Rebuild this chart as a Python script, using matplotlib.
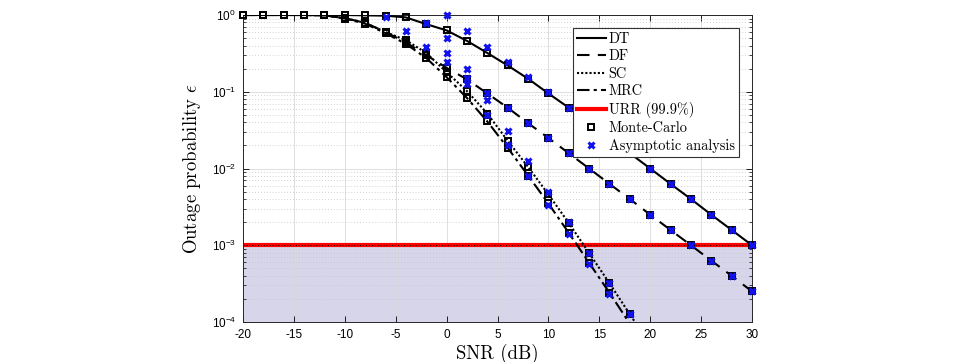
import numpy as np
from matplotlib import pyplot as plt
from matplotlib.ticker import LogLocator, NullFormatter, MultipleLocator

nan = np.nan

# ============================================================
# DATA
# ============================================================
snr = [-20, -18, -16, -14, -12, -10, -8, -6, -4, -2, 0, 2, 4, 6, 8, 10, 12, 14,
       16, 18, 20, 22, 24, 26, 28, 30]

dt = [1.0, 1.0, 1.0, 1.0, 1.0, 1.0, 0.99, 0.98, 0.93, 0.76, 0.63, 0.46, 0.32,
      0.22, 0.148, 0.095, 0.062, 0.039, 0.025, 0.0158, 0.010, 0.0063, 0.0040,
      0.0025, 0.00158, 0.0010]
df = [1.0, 1.0, 1.0, 1.0, 0.99, 0.91, 0.79, 0.60, 0.44, 0.30, 0.205, 0.145,
      0.095, 0.062, 0.039, 0.025, 0.0158, 0.010, 0.0063, 0.0040, 0.0025,
      0.00158, 0.0010, 0.00063, 0.0004, 0.00025]
sc = [1.0, 1.0, 1.0, 1.0, 0.99, 0.91, 0.79, 0.60, 0.47, 0.32, 0.18, 0.102,
      0.052, 0.023, 0.0105, 0.0046, 0.00195, 0.00079, 0.00032, 0.000126,
      5e-5, 2e-5, 8e-6, 3.2e-6, 1.3e-6, 5e-7]
mrc = [1.0, 1.0, 1.0, 1.0, 0.99, 0.90, 0.77, 0.58, 0.42, 0.275, 0.155, 0.083,
       0.041, 0.0186, 0.0081, 0.0035, 0.00145, 0.00059, 0.00024, 9.5e-5,
       3.8e-5, 1.5e-5, 6e-6, 2.4e-6, 9.5e-7, 3.8e-7]

dt_asym = [nan, nan, nan, nan, nan, nan, nan, nan, nan, nan, 1.0, 0.62, 0.38,
           0.245, 0.155, 0.098, 0.062, 0.039, 0.025, 0.0158, 0.010, 0.0063,
           0.0040, 0.0025, 0.00158, 0.0010]
df_asym = [nan, nan, nan, nan, nan, nan, nan, 0.95, 0.61, 0.38, 0.245, 0.15,
           0.096, 0.061, 0.039, 0.025, 0.0158, 0.010, 0.0063, 0.0040, 0.0025,
           0.00158, 0.0010, 0.00063, 0.0004, 0.00025]
sc_asym = [nan, nan, nan, nan, nan, nan, nan, nan, nan, nan, 0.50, 0.20, 0.079,
           0.031, 0.0126, 0.0050, 0.0020, 0.00079, 0.00032, 0.000126,
           nan, nan, nan, nan, nan, nan]
mrc_asym = [nan, nan, nan, nan, nan, nan, nan, nan, nan, 0.79, 0.32, 0.126,
            0.050, 0.020, 0.0079, 0.0033, 0.0014, 0.00057, 0.00023, 9.2e-5,
            nan, nan, nan, nan, nan, nan]

urr = 1e-3
y_min = 1e-4
y_max = 1.0

def visible(vals):
    # markers are drawn unclipped (like matlab), so drop points below the axis
    v = np.array(vals, dtype=float)
    return np.where(v >= y_min, v, nan)

# ============================================================
# STYLE
# ============================================================
plt.rcParams['mathtext.fontset'] = 'cm'
plt.rcParams['axes.unicode_minus'] = False
plt.rcParams['font.family'] = 'Liberation Sans'
plt.rcParams['font.size'] = 8

fig = plt.figure(figsize=(9.62, 3.62), dpi=100)
ax = fig.add_axes([243/962, 40/362, 509/962, 307/362])

# shaded region + threshold
ax.axhspan(y_min, urr, facecolor='#d7d5e9', edgecolor='none', zorder=0.3)
ax.axhline(urr, color='red', lw=3, label='URR (99.9%)', zorder=2.5)
ax.axhline(urr, color='k', lw=0.7, ls=(0, (1, 2)), zorder=2.6)

# curves
ax.plot(snr, dt, 'k-', lw=1.5, label='DT', zorder=3)
ax.plot(snr, df, 'k', lw=1.5, ls=(0, (6, 4)), label='DF', zorder=3)
ax.plot(snr, sc, 'k', lw=1.5, ls=(0, (1, 1)), label='SC', zorder=3)
ax.plot(snr, mrc, 'k', lw=1.5, ls=(0, (6, 2, 1.5, 2)), label='MRC', zorder=3)

# markers
sq = dict(ls='none', marker='s', ms=5, mfc='none', mec='k', mew=1.4, zorder=4, clip_on=False)
ax.plot(snr, visible(dt), label='Monte-Carlo', **sq)
ax.plot(snr, visible(df), **sq)
ax.plot(snr, visible(sc), **sq)
ax.plot(snr, visible(mrc), **sq)

xs = dict(ls='none', marker='x', ms=4.5, mec='#1212ee', mew=2.2, zorder=5, clip_on=False)
ax.plot(snr, visible(dt_asym), label='Asymptotic analysis', **xs)
ax.plot(snr, visible(df_asym), **xs)
ax.plot(snr, visible(sc_asym), **xs)
ax.plot(snr, visible(mrc_asym), **xs)

# axes
ax.set_yscale('log')
ax.set_xlim(-20, 30)
ax.set_ylim(y_min, y_max)
ax.xaxis.set_major_locator(MultipleLocator(5))
ax.yaxis.set_major_locator(LogLocator(base=10, numticks=10))
ax.yaxis.set_minor_locator(LogLocator(base=10, subs=np.arange(2, 10), numticks=20))
ax.yaxis.set_minor_formatter(NullFormatter())
ax.tick_params(which='both', direction='in', top=True, right=True, labelsize=8.5, pad=5)
ax.tick_params(which='major', length=4, width=0.6)
ax.tick_params(which='minor', length=2.5, width=0.5)

ax.set_axisbelow(True)
ax.grid(True, which='major', color='#d9d9d9', lw=0.6)
ax.grid(True, which='minor', axis='y', color='#c4c4c4', lw=0.6, ls=(0, (1, 2.5)))
for s in ax.spines.values():
    s.set_linewidth(0.7)
    s.set_color('#262626')

ax.set_xlabel('SNR (dB)', fontfamily='cmr10', fontsize=13.5, labelpad=2)
ax.set_ylabel('Outage probability $\\epsilon$', fontfamily='cmr10', fontsize=13.5, labelpad=6)

handles, labels = ax.get_legend_handles_labels()
order = ['DT', 'DF', 'SC', 'MRC', 'URR (99.9%)', 'Monte-Carlo', 'Asymptotic analysis']
h = [handles[labels.index(o)] for o in order]
leg = ax.legend(h, order, loc='upper left', bbox_to_anchor=(0.648, 0.958),
                borderaxespad=0, prop={'family': 'cmr10', 'size': 10.3},
                handlelength=2.0, handletextpad=0.2, labelspacing=0.26,
                borderpad=0.3, numpoints=1, fancybox=False, framealpha=1)
leg.get_frame().set_edgecolor('#333333')
leg.get_frame().set_linewidth(0.8)
leg.set_zorder(10)

fig.savefig('out.png', dpi=100)
